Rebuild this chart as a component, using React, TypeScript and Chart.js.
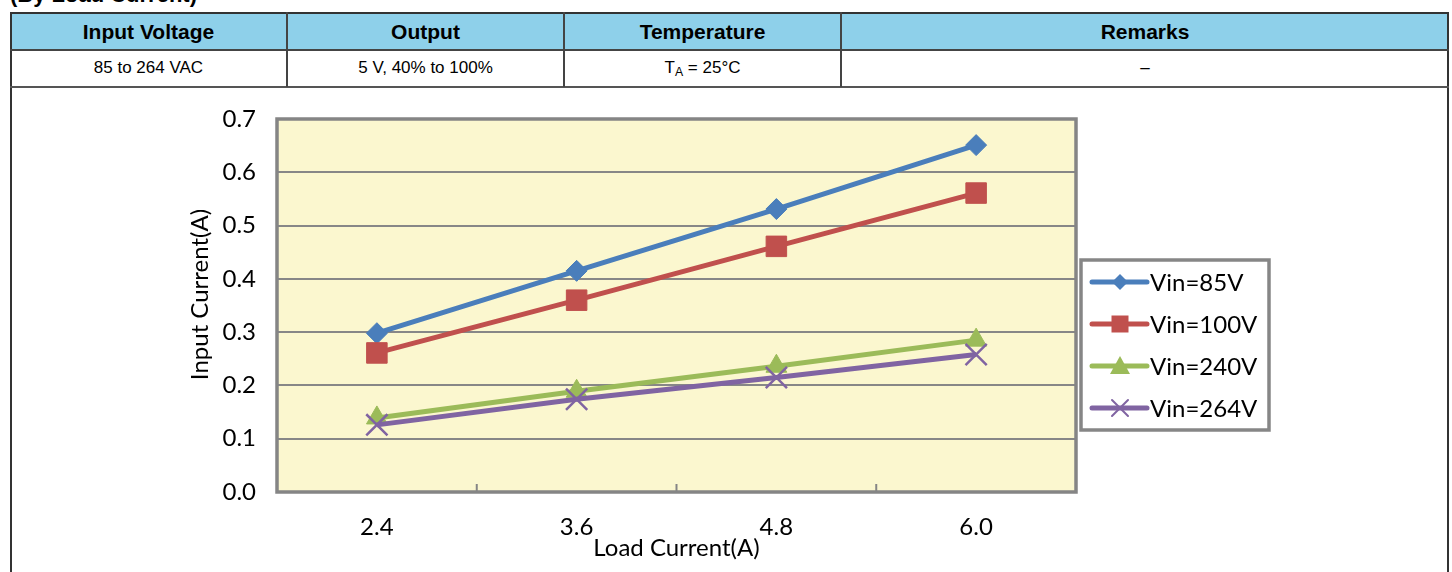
import React, { useEffect, useRef } from 'react';
import { Chart, registerables } from 'chart.js';

Chart.register(...registerables);

// ---- data ----
const loadCurrents = ['2.4', '3.6', '4.8', '6.0'];
const vin85 = [0.298, 0.415, 0.531, 0.651];
const vin100 = [0.261, 0.36, 0.461, 0.561];
const vin240 = [0.139, 0.189, 0.236, 0.285];
const vin264 = [0.126, 0.174, 0.215, 0.258];
const seriesLabels = ['Vin=85V', 'Vin=100V', 'Vin=240V', 'Vin=264V'];
const yMin = 0;
const yMax = 0.7;
const yStep = 0.1;
const xTitle = 'Load Current(A)';
const yTitle = 'Input Current(A)';
const pageTitle = '(By Load Current)';
const headerCols = ['Input Voltage', 'Output', 'Temperature', 'Remarks'];

const FONT = 'Lato';
const BLUE = '#4A7EBB';
const RED = '#C0504D';
const GREEN = '#9BBB59';
const PURPLE = '#8064A2';

type Marker = 'rectRot' | 'rect' | 'triangle' | 'crossRot';

function drawMarker(ctx: CanvasRenderingContext2D, style: Marker, x: number, y: number, r: number, color: string) {
  ctx.save();
  ctx.fillStyle = color;
  ctx.strokeStyle = color;
  ctx.beginPath();
  if (style === 'rectRot') {
    ctx.moveTo(x - r, y);
    ctx.lineTo(x, y - r);
    ctx.lineTo(x + r, y);
    ctx.lineTo(x, y + r);
    ctx.closePath();
    ctx.fill();
  } else if (style === 'rect') {
    ctx.rect(x - r, y - r, 2 * r, 2 * r);
    ctx.fill();
  } else if (style === 'triangle') {
    ctx.moveTo(x, y - r);
    ctx.lineTo(x + r, y + r * 0.8);
    ctx.lineTo(x - r, y + r * 0.8);
    ctx.closePath();
    ctx.fill();
  } else {
    ctx.lineWidth = 2;
    ctx.moveTo(x - r, y - r);
    ctx.lineTo(x + r, y + r);
    ctx.moveTo(x + r, y - r);
    ctx.lineTo(x - r, y + r);
    ctx.stroke();
  }
  ctx.restore();
}

const markerStyles: Marker[] = ['rectRot', 'rect', 'triangle', 'crossRot'];
const legendMarkerSize = [8, 8.5, 10, 8];

const plotPlugin = {
  id: 'plotDecor',
  beforeDraw(chart: any) {
    const { ctx, chartArea: ca } = chart;
    ctx.save();
    ctx.fillStyle = '#FBF7CF';
    ctx.fillRect(ca.left, ca.top, ca.right - ca.left, ca.bottom - ca.top);
    ctx.restore();
  },
  beforeDatasetsDraw(chart: any) {
    const { ctx, chartArea: ca } = chart;
    const xs = chart.scales.x;
    ctx.save();
    // inner tick marks between categories
    ctx.strokeStyle = '#858585';
    ctx.lineWidth = 2;
    for (let i = 1; i < loadCurrents.length; i++) {
      const px = (xs.getPixelForValue(i - 1) + xs.getPixelForValue(i)) / 2;
      ctx.beginPath();
      ctx.moveTo(px, ca.bottom);
      ctx.lineTo(px, ca.bottom - 8);
      ctx.stroke();
    }
    ctx.lineWidth = 3.5;
    ctx.strokeStyle = '#858585';
    ctx.strokeRect(ca.left, ca.top, ca.right - ca.left, ca.bottom - ca.top);
    // y-axis title
    ctx.fillStyle = '#000';
    ctx.font = `24px ${FONT}`;
    ctx.textAlign = 'center';
    ctx.textBaseline = 'middle';
    ctx.translate(ca.left - 77, (ca.top + ca.bottom) / 2 - 11);
    ctx.rotate(-Math.PI / 2);
    ctx.fillText(yTitle, 0, 0);
    ctx.restore();
  },
  afterDraw(chart: any) {
    const { ctx, chartArea: ca } = chart;
    const bx = ca.right + 5;
    const by = ca.top + 141;
    const bw = 188;
    const bh = 170;
    ctx.save();
    ctx.fillStyle = '#fff';
    ctx.fillRect(bx, by, bw, bh);
    ctx.strokeStyle = '#868686';
    ctx.lineWidth = 3.5;
    ctx.strokeRect(bx, by, bw, bh);
    chart.data.datasets.forEach((ds: any, i: number) => {
      const y = by + 22 + i * 42;
      ctx.strokeStyle = ds.borderColor;
      ctx.lineWidth = 5;
      ctx.lineCap = 'round';
      ctx.beginPath();
      ctx.moveTo(bx + 11, y);
      ctx.lineTo(bx + 66, y);
      ctx.stroke();
      drawMarker(ctx, markerStyles[i], bx + 39, y, legendMarkerSize[i], ds.borderColor);
      ctx.fillStyle = '#000';
      ctx.font = `24px ${FONT}`;
      ctx.textAlign = 'left';
      ctx.textBaseline = 'middle';
      ctx.fillText(ds.label, bx + 69, y + 1);
    });
    ctx.restore();
  },
};

function ChartCanvas() {
  const ref = useRef<HTMLCanvasElement | null>(null);
  useEffect(() => {
    if (!ref.current) return;
    const series = [vin85, vin100, vin240, vin264];
    const colors = [BLUE, RED, GREEN, PURPLE];
    const radii = [10.5, 14.5, 12, 15];
    const chart = new Chart(ref.current, {
      type: 'line',
      data: {
        labels: loadCurrents,
        datasets: series.map((d, i) => ({
          label: seriesLabels[i],
          data: d,
          borderColor: colors[i],
          backgroundColor: colors[i],
          borderWidth: 5,
          pointStyle: markerStyles[i],
          pointRadius: radii[i],
          pointBorderWidth: i === 3 ? 2.5 : 1,
          pointBackgroundColor: colors[i],
          pointBorderColor: colors[i],
          tension: 0,
          order: 3 - i,
        })),
      },
      options: {
        responsive: false,
        maintainAspectRatio: false,
        animation: false,
        events: [],
        layout: { padding: { left: 172, top: 30, right: 371, bottom: 0 } },
        plugins: { legend: { display: false }, tooltip: { enabled: false } },
        scales: {
          x: {
            type: 'category',
            offset: true,
            grid: { display: false },
            border: { display: false },
            ticks: { padding: 13, color: '#000', font: { family: FONT, size: 24 } },
            title: {
              display: true,
              text: xTitle,
              color: '#000',
              font: { family: FONT, size: 24, lineHeight: 1.2 },
              padding: { top: 0, bottom: 9.5 },
            },
            afterFit: (s: any) => {
              s.height = 80;
            },
          },
          y: {
            min: yMin,
            max: yMax,
            grid: { color: '#878787', lineWidth: 2, drawTicks: false },
            border: { display: false },
            ticks: {
              stepSize: yStep,
              padding: 21,
              color: '#000',
              font: { family: FONT, size: 24, lineHeight: 0.7 },
              callback: (v: any) => Number(v).toFixed(1),
            },
            afterFit: (s: any) => {
              s.width = 93;
            },
          },
        },
      },
      plugins: [plotPlugin],
    } as any);
    return () => chart.destroy();
  }, []);
  return (
    <canvas
      ref={ref}
      width={1435}
      height={483}
      style={{ position: 'absolute', left: 12, top: 89, width: 1435, height: 483 }}
    />
  );
}

const colEdges = [10, 287, 564, 841, 1449];
const bodyCells: React.ReactNode[] = [
  '85 to 264 VAC',
  '5 V, 40% to 100%',
  <span key="t">
    T<sub style={{ fontSize: '0.72em', verticalAlign: '-0.25em', lineHeight: 0 }}>A</sub> = 25°C
  </span>,
  '–',
];

export default function App() {
  const tableFont = '"Liberation Sans", Arial, sans-serif';
  return (
    <div
      style={{
        position: 'absolute',
        left: 0,
        top: 0,
        width: 1452,
        height: 572,
        overflow: 'hidden',
        background: '#fff',
      }}
    >
      <div
        style={{
          position: 'absolute',
          left: 10,
          top: -16,
          fontFamily: tableFont,
          fontWeight: 'bold',
          fontSize: 22,
          lineHeight: '22px',
          color: '#000',
          whiteSpace: 'nowrap',
        }}
      >
        {pageTitle}
      </div>
      {/* header background */}
      <div style={{ position: 'absolute', left: 10, top: 12, width: 1439, height: 38, background: '#8ED0EA' }} />
      {/* outer frame */}
      <div
        style={{
          position: 'absolute',
          left: 10,
          top: 12,
          width: 1439,
          height: 620,
          border: '2px solid #333',
          boxSizing: 'border-box',
        }}
      />
      <div style={{ position: 'absolute', left: 10, top: 49, width: 1439, height: 2, background: '#444' }} />
      <div style={{ position: 'absolute', left: 10, top: 86, width: 1439, height: 2, background: '#555' }} />
      {colEdges.slice(1, -1).map((x) => (
        <div key={x} style={{ position: 'absolute', left: x - 1, top: 12, width: 2, height: 75, background: '#444' }} />
      ))}
      {headerCols.map((h, i) => (
        <div
          key={h}
          style={{
            position: 'absolute',
            left: colEdges[i],
            width: colEdges[i + 1] - colEdges[i],
            top: 14,
            height: 35,
            fontFamily: tableFont,
            fontWeight: 'bold',
            fontSize: 21,
            lineHeight: '35px',
            textAlign: 'center',
            color: '#000',
          }}
        >
          {h}
        </div>
      ))}
      {bodyCells.map((c, i) => (
        <div
          key={i}
          style={{
            position: 'absolute',
            left: colEdges[i],
            width: colEdges[i + 1] - colEdges[i],
            top: 51,
            height: 35,
            fontFamily: tableFont,
            fontSize: 17,
            lineHeight: '34px',
            textAlign: 'center',
            color: '#000',
          }}
        >
          {c}
        </div>
      ))}
      <ChartCanvas />
    </div>
  );
}
